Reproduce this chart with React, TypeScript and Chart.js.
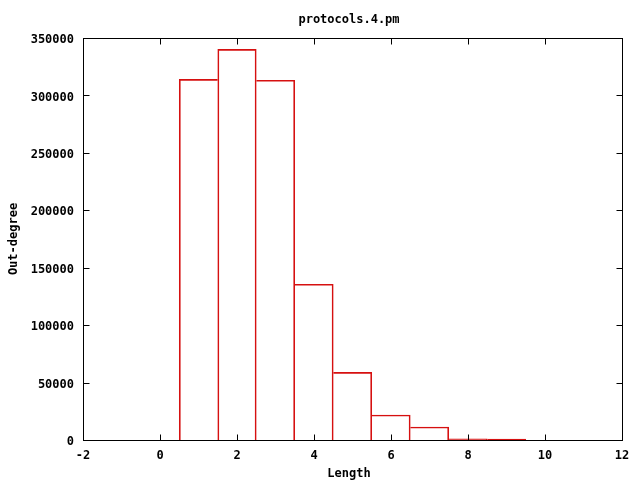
import React, { useEffect, useRef } from "react";
import { Chart, registerables } from "chart.js";

Chart.register(...registerables);

const lengths = [1, 2, 3, 4, 5, 6, 7, 8, 9];
const outDegree = [314000, 340100, 313200, 135600, 58900, 21800, 11300, 1000, 700];
const chartTitle = "protocols.4.pm";
const xTitle = "Length";
const yTitle = "Out-degree";
const xMin = -2, xMax = 12, xStep = 2;
const yMin = 0, yMax = 350000, yStep = 50000;

const FONT = "DejaVu Sans Mono";
const RED = "rgb(214,16,16)";

export default function App() {
  const ref = useRef<HTMLCanvasElement>(null);
  useEffect(() => {
    if (!ref.current) return;
    const borderWidths = outDegree.map((v, i) => ({
      left: i === 0 || outDegree[i - 1] < v ? 1 : 0,
      right: i === outDegree.length - 1 || outDegree[i + 1] <= v ? 1 : 0,
      top: 1,
      bottom: 0,
    }));
    const framePlugin = {
      id: "frame",
      afterDatasetsDraw(chart: any) {
        const { ctx, chartArea } = chart;
        const l = Math.round(chartArea.left) + 0.5;
        const r = Math.round(chartArea.right) + 0.5;
        const t = Math.round(chartArea.top) + 0.5;
        const b = Math.round(chartArea.bottom) + 0.5;
        ctx.save();
        ctx.strokeStyle = "#000";
        ctx.lineWidth = 1;
        ctx.strokeRect(l, t, r - l, b - t);
        const xs = chart.scales.x;
        const ys = chart.scales.y;
        const tl = 6;
        ctx.beginPath();
        xs.ticks.forEach((tk: any) => {
          const px = Math.round(xs.getPixelForValue(tk.value)) + 0.5;
          ctx.moveTo(px, b); ctx.lineTo(px, b - tl);
          ctx.moveTo(px, t); ctx.lineTo(px, t + tl);
        });
        ys.ticks.forEach((tk: any) => {
          const py = Math.round(ys.getPixelForValue(tk.value)) + 0.5;
          ctx.moveTo(l, py); ctx.lineTo(l + tl, py);
          ctx.moveTo(r, py); ctx.lineTo(r - tl, py);
        });
        ctx.stroke();
        ctx.fillStyle = "#000";
        ctx.font = `bold 12px "${FONT}"`;
        ctx.textAlign = "center";
        ctx.textBaseline = "middle";
        ctx.fillText(chartTitle, 349, 20);
        ctx.fillText(xTitle, 349, 474);
        ctx.translate(14, 239);
        ctx.rotate(-Math.PI / 2);
        ctx.fillText(yTitle, 0, 0);
        ctx.restore();
      },
    };
    const chart = new Chart(ref.current, {
      type: "bar",
      data: {
        datasets: [
          {
            data: lengths.map((x, i) => ({ x, y: outDegree[i] })),
            backgroundColor: "rgba(0,0,0,0)",
            borderColor: RED,
            borderWidth: borderWidths as any,
            borderSkipped: false,
            barPercentage: 1,
            categoryPercentage: 1,
          },
        ],
      },
      options: {
        responsive: false,
        animation: false,
        layout: { padding: { top: 38, right: 18, left: 0, bottom: 0 } },
        plugins: { legend: { display: false }, title: { display: false }, tooltip: { enabled: false } },
        scales: {
          x: {
            type: "linear",
            min: xMin,
            max: xMax,
            offset: false,
            grid: { display: false, drawTicks: false },
            border: { display: false },
            ticks: {
              stepSize: xStep,
              color: "#000",
              padding: 9,
              maxRotation: 0,
              font: { family: FONT, size: 12, weight: "bold" },
            },
            afterFit: (s: any) => { s.height = 40; },
          },
          y: {
            type: "linear",
            min: yMin,
            max: yMax,
            grid: { display: false, drawTicks: false },
            border: { display: false },
            ticks: {
              stepSize: yStep,
              color: "#000",
              padding: 9,
              labelOffset: 2,
              callback: (v: any) => String(v),
              font: { family: FONT, size: 12, weight: "bold" },
            },
            afterFit: (s: any) => { s.width = 83; },
          },
        },
      },
      plugins: [framePlugin],
    });
    return () => chart.destroy();
  }, []);
  return (
    <div style={{ position: "fixed", left: 0, top: 0, width: 640, height: 480, background: "#fff" }}>
      <canvas ref={ref} width={640} height={480} style={{ width: 640, height: 480, display: "block" }} />
    </div>
  );
}
